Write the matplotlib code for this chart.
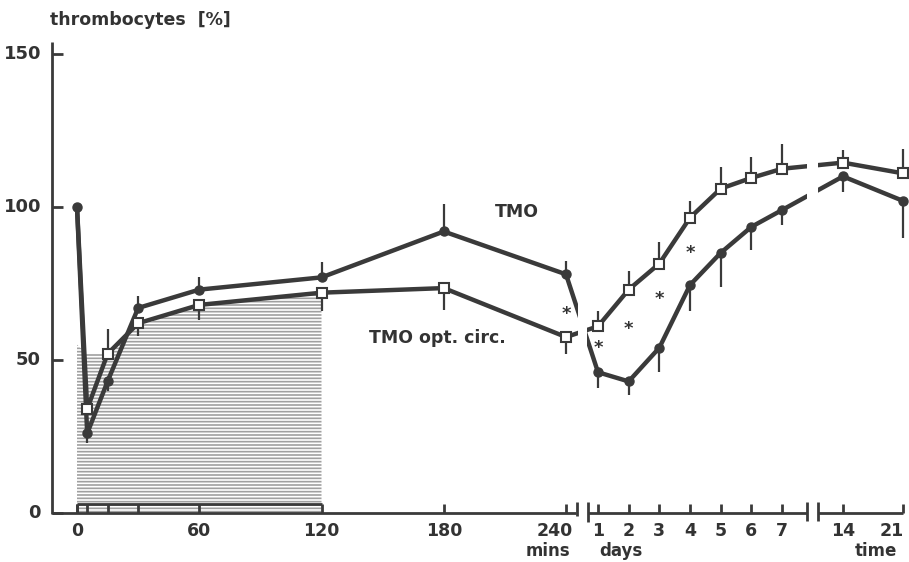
import numpy as np
import matplotlib
matplotlib.use("Agg")
import matplotlib.pyplot as plt

# ---------------- data ----------------
minutes = [0, 5, 15, 30, 60, 120, 180, 240]
days = [1, 2, 3, 4, 5, 6, 7, 14, 21]

tmo_min = [100, 26, 43, 67, 73, 77, 92, 78]
tmo_day = [46, 43, 54, 74.5, 85, 93.5, 99, 110, 102]
tmo_err_lo = [0, 3, 3, 0, 0, 0, 0, 0] + [5, 4.5, 8, 8.5, 11, 7.5, 5, 5, 12]
tmo_err_hi = [0, 0, 0, 4, 4, 5, 9, 4.5] + [0, 0, 0, 0, 0, 0, 0, 0, 0]

opt_min = [100, 34, 52, 62, 68, 72, 73.5, 57.5]
opt_day = [61, 73, 81.5, 96.5, 106, 109.5, 112.5, 114.5, 111]
opt_err_lo = [0, 0, 0, 4, 5, 6, 7, 5.5] + [0, 0, 0, 0, 0, 0, 0, 0, 0]
opt_err_hi = [0, 8, 8, 0, 0, 0, 0, 0] + [5, 6, 7, 5.5, 7, 7, 8, 4, 8]

hatch_t = [0, 5, 15, 30, 60, 120]
hatch_top = [55, 52, 52, 61, 68, 72]

# significance asterisks: (time in minutes, value)
star_t = [240, 1440, 2880, 4320, 5760]
star_y = [65, 54, 60, 70, 85]

min_ticks = [0, 60, 120, 180, 240]
min_minor = [5, 15, 30]
day_ticks = [1, 2, 3, 4, 5, 6, 7]
week_ticks = [14, 21]

# ---------------- broken time scale ----------------
KT = np.array([0, 240, 1440, 10080, 20160, 30240], float)
KP = np.array([77, 566, 598, 782, 843, 903], float)


def _pl(x, xs, ys):
    x = np.asarray(x, float)
    out = np.interp(x, xs, ys)
    s0 = (ys[1] - ys[0]) / (xs[1] - xs[0])
    s1 = (ys[-1] - ys[-2]) / (xs[-1] - xs[-2])
    out = np.where(x < xs[0], ys[0] + (x - xs[0]) * s0, out)
    out = np.where(x > xs[-1], ys[-1] + (x - xs[-1]) * s1, out)
    return out


def fwd(t):
    return _pl(t, KT, KP)


def inv(p):
    return _pl(p, KP, KT)


def X(p):
    return float(inv(p))


W, H = 909, 562
PXU = 3.06
Y0 = 513


def Yv(py):
    return (Y0 - py) / PXU


plt.rcParams['font.family'] = ['DejaVu Sans']
C = '#3a3a3a'
TC = '#333333'
FW = 'bold'

fig = plt.figure(figsize=(W / 100, H / 100), dpi=100)
ax = fig.add_axes([0, 0, 1, 1])
ax.set_xscale('function', functions=(fwd, inv))
ax.set_xlim(X(0), X(W))
ax.set_ylim(Yv(H), Yv(0))
ax.axis('off')

plt.rcParams['hatch.linewidth'] = 1.2
# hatched region
ax.fill_between(hatch_t, 0, hatch_top, facecolor='none', edgecolor='#a0a0a0',
                hatch='-----', linewidth=0, zorder=1)

t_all = np.array(minutes + [d * 1440 for d in days], float)
tmo = np.array(tmo_min + tmo_day, float)
opt = np.array(opt_min + opt_day, float)

# error bars
ax.errorbar(t_all, tmo, yerr=[tmo_err_lo, tmo_err_hi], fmt='none', ecolor=C,
            elinewidth=1.6, capsize=0, zorder=2)
ax.errorbar(t_all, opt, yerr=[opt_err_lo, opt_err_hi], fmt='none', ecolor=C,
            elinewidth=1.6, capsize=0, zorder=2)

# lines
ax.plot(t_all, tmo, color=C, lw=3.2, marker='o', markersize=6.5,
        markerfacecolor=C, markeredgecolor=C, zorder=3, solid_joinstyle='round')
ax.plot(t_all, opt, color=C, lw=3.2, marker='s', markersize=7.5,
        markerfacecolor='white', markeredgecolor=C, markeredgewidth=1.5,
        markevery=list(range(1, len(t_all))), zorder=4, solid_joinstyle='round')

# breaks in the curves
for a, b in [(578, 587), (807, 818)]:
    ax.axvspan(X(a), X(b), color='white', zorder=5, lw=0)

# asterisks
for tx, ty in zip(star_t, star_y):
    ax.text(tx, ty, '*', ha='center', va='center', fontsize=13,
            fontweight=FW, color=TC, zorder=6)

# series labels
ax.text(X(517), Yv(212), 'TMO', ha='center', va='center', fontsize=12.5,
        fontweight=FW, color=TC)
ax.text(X(437), Yv(338), 'TMO opt. circ.', ha='center', va='center',
        fontsize=12.5, fontweight=FW, color=TC)

# ---------------- axes drawn by hand ----------------
kw = dict(color=C, lw=2.0, clip_on=False, zorder=7, solid_capstyle='butt')
# y axis
ax.plot([X(52), X(52)], [Yv(Y0 + 1), Yv(42)], **kw)
for v in [0, 50, 100, 150]:
    ax.plot([X(52), X(63)], [v, v], **kw)
    ax.text(X(41), v, str(v), ha='right', va='center', fontsize=13,
            fontweight=FW, color=TC)

ax.text(X(50), Yv(20), 'thrombocytes  [%]', ha='left', va='center',
        fontsize=12.5, fontweight=FW, color=TC)

# x axis segments
ax.plot([X(52), X(576)], [0, 0], **kw)
ax.plot([X(588), X(807)], [0, 0], **kw)
ax.plot([X(818), X(903)], [0, 0], **kw)
tk = Yv(504)
# bracket under hatched area
ax.plot([0, 120], [tk, tk], **kw)
for t in [0] + min_minor + min_ticks:
    ax.plot([t, t], [0, tk], **kw)
for t in day_ticks:
    ax.plot([t * 1440, t * 1440], [0, tk], **kw)
for t in week_ticks:
    ax.plot([t * 1440, t * 1440], [0, tk], **kw)
# break marks
ax.plot([X(577), X(577)], [Yv(516), Yv(502)], **kw)
ax.plot([X(588), X(588)], [Yv(522), Yv(502)], **kw)
ax.plot([X(807), X(807)], [Yv(521), Yv(502)], **kw)
ax.plot([X(818), X(818)], [Yv(521), Yv(502)], **kw)

ly = Yv(531)
for t in min_ticks:
    px = float(fwd(t))
    if t == 240:
        px = 555
    ax.text(X(px), ly, str(t), ha='center', va='center', fontsize=12.5,
            fontweight=FW, color=TC)
for d in day_ticks:
    ax.text(d * 1440, ly, str(d), ha='center', va='center', fontsize=12.5,
            fontweight=FW, color=TC)
for d in week_ticks:
    px = float(fwd(d * 1440))
    if d == 21:
        px = 892
    ax.text(X(px), ly, str(d), ha='center', va='center', fontsize=12.5,
            fontweight=FW, color=TC)

ly2 = Yv(551)
ax.text(X(548), ly2, 'mins', ha='center', va='center', fontsize=12,
        fontweight=FW, color=TC)
ax.text(X(621), ly2, 'days', ha='center', va='center', fontsize=12,
        fontweight=FW, color=TC)
ax.text(X(876), ly2, 'time', ha='center', va='center', fontsize=12,
        fontweight=FW, color=TC)

fig.savefig('out.png', dpi=100, facecolor='white')
